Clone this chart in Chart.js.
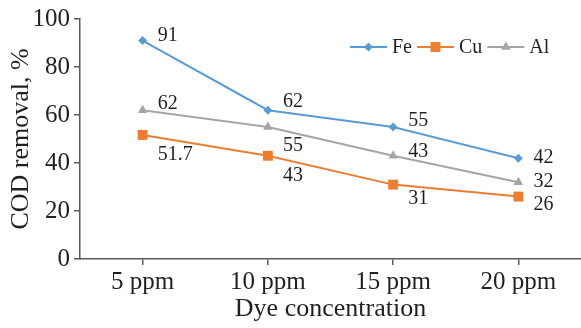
<!DOCTYPE html>
<html>
<head>
<meta charset="utf-8">
<script src="https://cdn.jsdelivr.net/npm/chart.js@4/dist/chart.umd.min.js"></script>
<style>
html,body{margin:0;padding:0;background:#fff;}
canvas{display:block;}
</style>
</head>
<body>
<canvas id="myChart" width="581" height="328"></canvas>
<script>
const ctx=document.getElementById('myChart');

// datos
const categorias = ['5 ppm','10 ppm','15 ppm','20 ppm']
const fe = [91,62,55,42]
const cu = [51.7,43,31,26]
const al = [62,55,43,32]
const yTicks = [0,20,40,60,80,100]

// desplazamiento vertical de cada etiqueta (px)
const dyFe = [-5,-8,-6,0]
const dyCu = [20,20,14,8]
const dyAl = [-6,19,-4,0]

const fuente = "'Liberation Serif','Times New Roman',serif"
const negro = '#231f20'
const ejes = '#595959'

const series = [
    {label:'Fe',data:fe,color:'#5b9bd5',pointStyle:'rectRot',radius:4.5,dy:dyFe},
    {label:'Cu',data:cu,color:'#ed7d31',pointStyle:'rect',radius:7,dy:dyCu},
    {label:'Al',data:al,color:'#a5a5a5',pointStyle:'triangle',radius:5.5,dy:dyAl}
]

//etiquetas de datos
const etiquetas = {
    id:'etiquetas',
    afterDatasetsDraw(chart){
        const c=chart.ctx
        c.save()
        c.font='20px '+fuente
        c.fillStyle=negro
        c.textAlign='left'
        c.textBaseline='middle'
        chart.data.datasets.forEach((ds,i)=>{
            const meta=chart.getDatasetMeta(i)
            meta.data.forEach((p,j)=>{
                c.fillText(String(ds.data[j]),p.x+15,p.y+series[i].dy[j])
            })
        })
        c.restore()
    }
}

//leyenda con linea y marcador
const leyenda = {
    id:'leyenda',
    afterDraw(chart){
        const c=chart.ctx
        c.save()
        c.font='20px '+fuente
        c.textBaseline='middle'
        c.textAlign='left'
        let x=350
        const y=47
        series.forEach(s=>{
            c.strokeStyle=s.color
            c.lineWidth=2
            c.beginPath()
            c.moveTo(x,y)
            c.lineTo(x+37,y)
            c.stroke()
            c.fillStyle=s.color
            Chart.helpers.drawPoint(c,{pointStyle:s.pointStyle,radius:s.radius,rotation:0,borderWidth:0},x+18.5,y)
            c.fillStyle=negro
            c.fillText(s.label,x+42,y+1)
            x+=42+c.measureText(s.label).width+5
        })
        c.restore()
    }
}

const myChart = new Chart(ctx,{
    type:'line',
    data:{
        labels:categorias,
        datasets:series.map(s=>({
            label:s.label,
            data:s.data,
            borderColor:s.color,
            backgroundColor:s.color,
            borderWidth:2,
            tension:0,
            pointStyle:s.pointStyle,
            pointRadius:s.radius,
            pointBorderWidth:0,
            pointBackgroundColor:s.color
        }))
    },
    options:{
        responsive:false,
        animation:false,
        layout:{autoPadding:false,padding:{top:19,right:-2,left:0,bottom:0}},
        plugins:{legend:{display:false},tooltip:{enabled:false}},
        scales:{
            x:{
                offset:true,
                grid:{display:true,drawOnChartArea:false,offset:false,tickLength:6,color:ejes,lineWidth:1.5},
                border:{color:ejes,width:1.5},
                ticks:{font:{family:fuente,size:25},color:negro,padding:2,maxRotation:0},
                title:{display:true,text:'Dye concentration',font:{family:fuente,size:26},color:negro,padding:{top:0,bottom:3}},
                afterFit:s=>{s.height=69;s.paddingLeft=0;s.paddingRight=0}
            },
            y:{
                min:0,max:100,
                afterBuildTicks:s=>{s.ticks=yTicks.map(v=>({value:v}))},
                grid:{display:true,drawOnChartArea:false,tickLength:6,color:ejes,lineWidth:1.5},
                border:{color:ejes,width:1.5},
                ticks:{font:{family:fuente,size:25},color:negro,padding:4},
                title:{display:true,text:'COD removal, %',font:{family:fuente,size:26},color:negro,padding:{top:6,bottom:0}},
                afterFit:s=>{s.width=80}
            }
        }
    },
    plugins:[etiquetas,leyenda]
})
</script>
</body>
</html>
